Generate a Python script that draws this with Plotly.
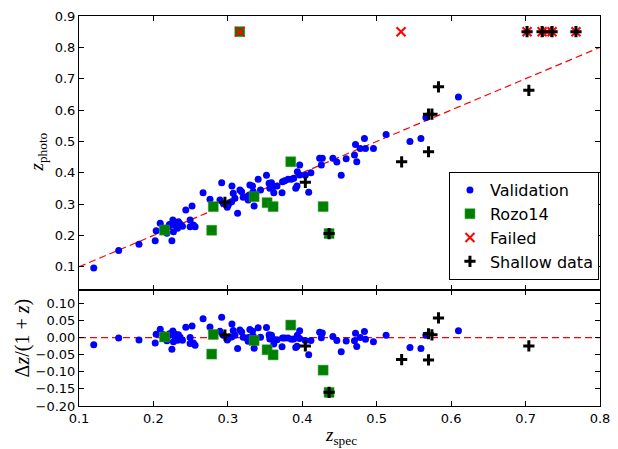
import plotly.graph_objects as go

# ---------------- data ----------------
FAILED_ZPHOTO = 0.85  # value used to mark failed photo-z estimates

val_zspec = [0.1198, 0.1533, 0.1806, 0.2024, 0.2248, 0.2037, 0.2091, 0.2181, 0.2261, 0.2292,
             0.2323, 0.2359, 0.2202, 0.2269, 0.2336, 0.2435, 0.2519, 0.2493, 0.2537, 0.2493,
             0.2560, 0.2667, 0.2917, 0.3055, 0.2760, 0.2894, 0.2938, 0.3005, 0.3051, 0.3095,
             0.3072, 0.3131, 0.3162, 0.3185, 0.3252, 0.3296, 0.3273, 0.2992, 0.3206, 0.3332,
             0.3340, 0.3287, 0.3353, 0.3407, 0.3439, 0.3519, 0.3554, 0.3586, 0.3608, 0.3564,
             0.3617, 0.3661, 0.3734, 0.3764, 0.3728, 0.3809, 0.3854, 0.3885, 0.3912, 0.3929,
             0.3934, 0.3965, 0.3965, 0.4041, 0.4086, 0.4116, 0.4233, 0.4269, 0.4256, 0.4411,
             0.4464, 0.4590, 0.4523, 0.4701, 0.4732, 0.4715, 0.4778, 0.4835, 0.4849, 0.4956,
             0.5126, 0.5447, 0.5594, 0.5661, 0.6098, 0.2130, 0.2215, 0.2290, 0.2390, 0.3020]
val_zphoto = [0.0965, 0.1516, 0.1720, 0.1834, 0.1834, 0.2153, 0.2389, 0.2070, 0.2494, 0.2334,
              0.2230, 0.2366, 0.2280, 0.2121, 0.2440, 0.2812, 0.2940, 0.2494, 0.2334, 0.2280,
              0.2280, 0.3363, 0.3682, 0.3576, 0.3153, 0.3130, 0.3025, 0.2971, 0.3076, 0.3185,
              0.3344, 0.2707, 0.3449, 0.3395, 0.3236, 0.3608, 0.3130, 0.2898, 0.3217, 0.3576,
              0.3395, 0.3290, 0.2940, 0.3790, 0.3449, 0.3917, 0.3662, 0.3682, 0.3554, 0.3503,
              0.3363, 0.3576, 0.3713, 0.3745, 0.3363, 0.3790, 0.3790, 0.3822, 0.3503, 0.3576,
              0.4032, 0.4245, 0.3927, 0.3917, 0.3376, 0.4000, 0.4459, 0.4459, 0.4245, 0.4459,
              0.4341, 0.4446, 0.3917, 0.4564, 0.4350, 0.4904, 0.4777, 0.5096, 0.4777, 0.4777,
              0.5223, 0.5000, 0.5096, 0.5764, 0.6420, 0.2240, 0.2350, 0.2420, 0.2290, 0.3040]

rozo_zspec = [0.3160, 0.2149, 0.2804, 0.2783, 0.3353, 0.3527, 0.3608, 0.3845, 0.4280, 0.4360]
rozo_zphoto = [0.8500, 0.2170, 0.2920, 0.2166, 0.3236, 0.3045, 0.2920, 0.4350, 0.2920, 0.2060]

failed_zspec = [0.3160, 0.5327, 0.7020, 0.7222, 0.7289, 0.7356, 0.7677]
failed_zphoto = [0.85, 0.85, 0.85, 0.85, 0.85, 0.85, 0.85]

shallow_zspec = [0.2961, 0.4041, 0.4360, 0.5335, 0.5696, 0.5696, 0.5742, 0.5830, 0.7044,
                 0.7020, 0.7222, 0.7356, 0.7677]
shallow_zphoto = [0.3057, 0.3694, 0.2060, 0.4350, 0.4670, 0.5870, 0.5870, 0.6740, 0.6630,
                  0.8500, 0.8500, 0.8500, 0.8500]

x_ticks = [0.1, 0.2, 0.3, 0.4, 0.5, 0.6, 0.7, 0.8]
top_y_ticks = [0.1, 0.2, 0.3, 0.4, 0.5, 0.6, 0.7, 0.8, 0.9]
bot_y_ticks = [0.10, 0.05, 0.00, -0.05, -0.10, -0.15, -0.20]


def residuals(zs, zp):
    xs, ds = [], []
    for s, p in zip(zs, zp):
        if p >= FAILED_ZPHOTO:
            continue
        xs.append(s)
        ds.append((p - s) / (1 + s))
    return xs, ds


fig = go.Figure()

# reference lines
fig.add_trace(go.Scatter(x=[0.1, 0.8], y=[0.1, 0.8], mode="lines", xaxis="x", yaxis="y",
                         line=dict(color="#ff0000", width=1.2, dash="7px,4px"),
                         showlegend=False, hoverinfo="skip"))
fig.add_trace(go.Scatter(x=[0.1, 0.8], y=[0.0, 0.0], mode="lines", xaxis="x2", yaxis="y2",
                         line=dict(color="#ff0000", width=1.2, dash="7px,4px"),
                         showlegend=False, hoverinfo="skip"))

styles = [
    ("Validation", val_zspec, val_zphoto,
     dict(symbol="circle", size=7, color="#0000ff", line=dict(width=0))),
    ("Rozo14", rozo_zspec, rozo_zphoto,
     dict(symbol="square", size=10, color="#008000", line=dict(width=0.5, color="#3a9a3a"))),
    ("Failed", failed_zspec, failed_zphoto,
     dict(symbol="x-thin", size=9, color="#ff0000", line=dict(width=2, color="#ff0000"))),
    ("Shallow data", shallow_zspec, shallow_zphoto,
     dict(symbol="cross-thin", size=8, color="black", line=dict(width=3, color="black"))),
]

for name, zs, zp, mk in styles:
    fig.add_trace(go.Scatter(x=zs, y=zp, mode="markers", name=name, marker=mk,
                             xaxis="x", yaxis="y", legendgroup=name))
    if name == "Failed":
        continue
    rx, rd = residuals(zs, zp)
    fig.add_trace(go.Scatter(x=rx, y=rd, mode="markers", name=name, marker=mk,
                             xaxis="x2", yaxis="y2", legendgroup=name, showlegend=False))

tickfont = dict(family="DejaVu Sans", size=13, color="black")
axis_common = dict(showline=True, linecolor="black", linewidth=1, mirror="ticks",
                   ticks="inside", ticklen=5, tickcolor="black", showgrid=False,
                   zeroline=False, tickfont=tickfont)

split = 116 / 390
# the page body adds an 8px offset, so the figure is 8px smaller and margins shifted
fig.update_layout(
    width=610, height=441,
    margin=dict(l=70.5, r=18, t=7.7, b=43, autoexpand=False),
    paper_bgcolor="white", plot_bgcolor="white",
    xaxis=dict(range=[0.1, 0.8], tickvals=x_ticks, showticklabels=False,
               anchor="y", matches="x2", **axis_common),
    yaxis=dict(range=[0.026, 0.9], tickvals=top_y_ticks,
               ticktext=[f"{v:.1f}" for v in top_y_ticks],
               domain=[split, 1], anchor="x", **axis_common),
    xaxis2=dict(range=[0.1, 0.8], tickvals=x_ticks,
                ticktext=[f"{v:.1f}" for v in x_ticks], anchor="y2", **axis_common),
    yaxis2=dict(range=[-0.2, 0.139], tickvals=bot_y_ticks,
                ticktext=[f"{v:.2f}".replace("-", "\u2212") for v in bot_y_ticks],
                domain=[0, split], anchor="x2", **axis_common),
    legend=dict(x=0.998, y=0.323, xanchor="right", yanchor="bottom",
                bgcolor="white", bordercolor="black", borderwidth=1,
                font=dict(family="DejaVu Sans", size=16, color="black"),
                tracegroupgap=0, traceorder="grouped", itemwidth=30),
    showlegend=True,
    annotations=[
        dict(text="<i>z</i><sub>photo</sub>", xref="paper", yref="paper",
             x=-0.078, y=0.651, xanchor="center", yanchor="middle",
             textangle=-90, showarrow=False,
             font=dict(family="Liberation Serif", size=19, color="black")),
        dict(text="\u0394<i>z</i>/(1 + <i>z</i>)", xref="paper", yref="paper",
             x=-0.108, y=0.175, xanchor="center", yanchor="middle",
             textangle=-90, showarrow=False,
             font=dict(family="Liberation Serif", size=20, color="black")),
        dict(text="<i>z</i><sub>spec</sub>", xref="paper", yref="paper",
             x=0.502, y=-0.078, xanchor="center", yanchor="middle", showarrow=False,
             font=dict(family="Liberation Serif", size=19, color="black")),
    ],
)

fig.write_html("out.html")
